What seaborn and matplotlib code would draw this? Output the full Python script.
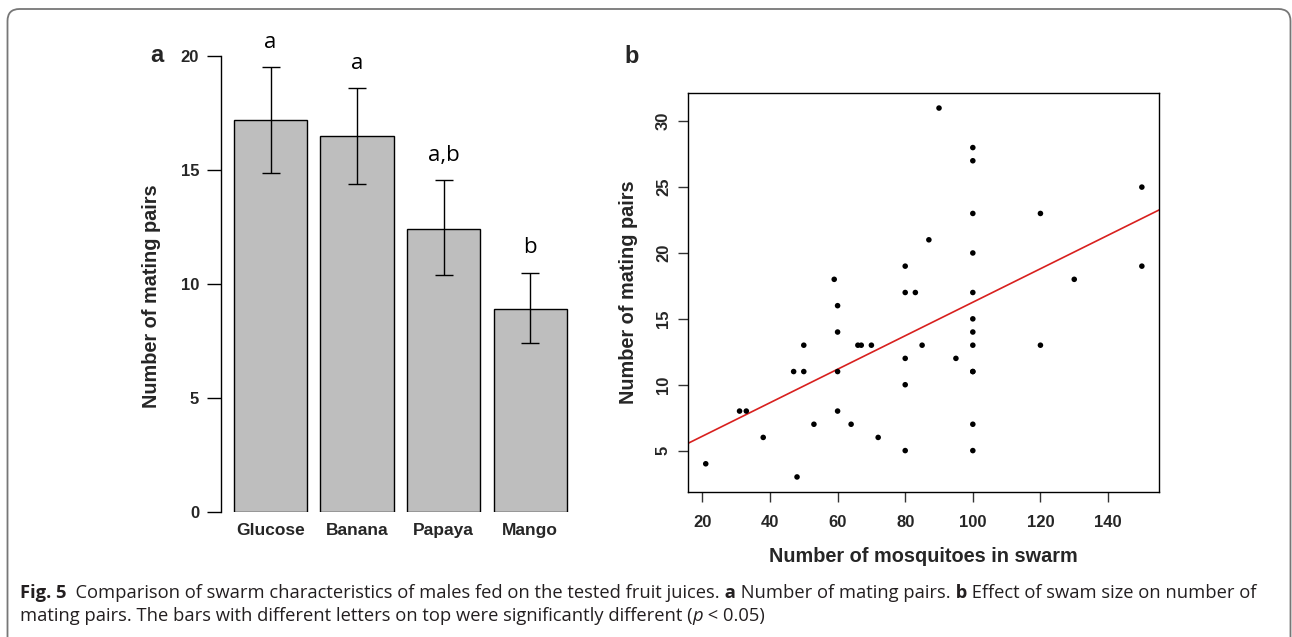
import matplotlib
matplotlib.use("Agg")
import matplotlib.pyplot as plt
import seaborn as sns
import numpy as np
import pandas as pd
from matplotlib.patches import FancyBboxPatch
from matplotlib.transforms import IdentityTransform

# ---------------- data ----------------
juices = ["Glucose", "Banana", "Papaya", "Mango"]
mean_pairs = [17.2, 16.5, 12.4, 8.9]
err_low = [14.85, 14.4, 10.4, 7.4]
err_high = [19.5, 18.6, 14.55, 10.5]
sig_letters = ["a", "a", "a,b", "b"]

swarm_size = [21, 48, 38, 31, 33, 47, 50, 50, 53, 60, 60, 60, 60, 64, 66, 67,
              70, 72, 80, 80, 80, 80, 83, 80, 85, 59, 90, 100, 100, 100, 120,
              150, 87, 100, 100, 130, 150, 100, 100, 100, 120, 95, 100, 100,
              100, 100]
mating_pairs = [4, 3, 6, 8, 8, 11, 11, 13, 7, 16, 14, 11, 8, 7, 13, 13,
                13, 6, 12, 10, 5, 17, 17, 19, 13, 18, 31, 28, 27, 23, 23,
                25, 21, 20, 17, 18, 19, 15, 14, 13, 13, 12, 11, 11,
                7, 5]

bar_yticks = [0, 5, 10, 15, 20]
sc_xticks = [20, 40, 60, 80, 100, 120, 140]
sc_yticks = [5, 10, 15, 20, 25, 30]

# ---------------- style ----------------
sns.set_style("white")
plt.rcParams["font.family"] = ["Liberation Sans", "DejaVu Sans"]
plt.rcParams["axes.linewidth"] = 1.0

W, H = 1292, 637
fig = plt.figure(figsize=(W / 100, H / 100), dpi=100)
fig.patch.set_facecolor("white")


def px_axes(left, top, right, bottom):
    return fig.add_axes([left / W, 1 - bottom / H, (right - left) / W, (bottom - top) / H])


# ---------------- panel a ----------------
axA = px_axes(220.7, 56.0, 579.9, 512.3)
dfa = pd.DataFrame({"juice": juices, "pairs": mean_pairs})
sns.barplot(data=dfa, x="juice", y="pairs", color="#bebebe", saturation=1,
            edgecolor="black", linewidth=1.0, width=0.845, errorbar=None, ax=axA)
m = np.array(mean_pairs)
axA.errorbar(np.arange(len(juices)), m,
             yerr=[m - np.array(err_low), np.array(err_high) - m],
             fmt="none", ecolor="black", elinewidth=1.0, capsize=6.3, capthick=1.0,
             clip_on=False)
for i, (hi, lab) in enumerate(zip(err_high, sig_letters)):
    axA.text(i, hi + 0.85, lab, ha="center", va="baseline", fontsize=16,
             family=["Open Sans", "DejaVu Sans"], color="black", clip_on=False)

axA.set_xlim(-0.576, 3.576)
axA.set_ylim(0, 20)
axA.set_yticks(bar_yticks)
axA.set_yticklabels([str(v) for v in bar_yticks], fontweight="bold", fontsize=12)
for lbl in axA.get_xticklabels():
    lbl.set_fontweight("bold")
    lbl.set_fontsize(12.5)
axA.tick_params(axis="y", direction="out", length=10, width=1.0, pad=5.5, left=True,
                color="black")
axA.tick_params(axis="x", length=0, pad=8)
for s in ["top", "right", "bottom"]:
    axA.spines[s].set_visible(False)
axA.spines["left"].set_bounds(0, 20)
axA.spines["left"].set_color("black")
axA.set_xlabel("")
axA.set_ylabel("Number of mating pairs", fontsize=14.3, fontweight="bold")
axA.yaxis.set_label_coords((151.7 - 220.7) / 359.2, (512.3 - 296) / 456.3)
axA.yaxis.label.set_va("center")
axA.patch.set_alpha(0)

# ---------------- panel b ----------------
axB = px_axes(688.3, 93.3, 1159.3, 491.7)
sns.scatterplot(x=swarm_size, y=mating_pairs, color="black", s=16,
                edgecolor="none", linewidth=0, ax=axB, zorder=3)
axB.set_xlim(15.84, 155.16)
axB.set_ylim(1.88, 32.12)
sns.regplot(x=swarm_size, y=mating_pairs, scatter=False, ci=None, truncate=False,
            color="#d8201e", line_kws={"linewidth": 1.2}, ax=axB)
axB.set_xlim(15.84, 155.16)
axB.set_ylim(1.88, 32.12)
axB.set_xticks(sc_xticks)
axB.set_xticklabels([str(v) for v in sc_xticks], fontweight="bold", fontsize=12)
axB.set_yticks(sc_yticks)
axB.set_yticklabels([str(v) for v in sc_yticks], fontweight="bold", fontsize=12,
                    rotation=90, va="center")
axB.tick_params(axis="both", direction="out", length=7.5, width=1.0, color="#333333",
                bottom=True, left=True)
axB.tick_params(axis="x", pad=9)
axB.tick_params(axis="y", pad=5)
for s in axB.spines.values():
    s.set_visible(True)
    s.set_color("black")
    s.set_linewidth(1.0)
axB.set_xlabel("Number of mosquitoes in swarm", fontsize=14.3, fontweight="bold")
axB.set_ylabel("Number of mating pairs", fontsize=14.3, fontweight="bold")
axB.xaxis.set_label_coords(0.5, (491.7 - 556.7) / 398.4)
axB.xaxis.label.set_va("center")
axB.yaxis.set_label_coords((628 - 688.3) / 471.0, 0.5)
axB.yaxis.label.set_va("center")

# panel letters
fig.text(156.7 / W, 1 - 62 / H, "a", ha="center", va="baseline", fontsize=17,
         fontweight="bold")
fig.text(631.5 / W, 1 - 63 / H, "b", ha="center", va="baseline", fontsize=17,
         fontweight="bold")

# ---------------- caption ----------------
cap_font = ["Open Sans", "DejaVu Sans"]
cap_size = 13.2
cap_color = "#231f20"
renderer = fig.canvas.get_renderer()


def rich_line(x_px, y_px, segments):
    x = x_px
    for txt, kw in segments:
        t = fig.text(x / W, 1 - y_px / H, txt, ha="left", va="baseline",
                     fontsize=cap_size, family=cap_font, color=cap_color, **kw)
        bb = t.get_window_extent(renderer)
        x += bb.width


rich_line(20, 598, [
    ("Fig. 5", {"fontweight": "bold"}),
    ("  Comparison of swarm characteristics of males fed on the tested fruit juices.", {}),
    (" a", {"fontweight": "bold"}),
    (" Number of mating pairs.", {}),
    (" b", {"fontweight": "bold"}),
    (" Effect of swam size on number of", {}),
])
rich_line(20, 621, [
    ("mating pairs. The bars with different letters on top were significantly different (", {}),
    ("p", {"style": "italic"}),
    (" < 0.05)", {}),
])

# border
border = FancyBboxPatch((7.5, -20), 1283, H - 9 + 20,
                        boxstyle="round,pad=0,rounding_size=12",
                        transform=IdentityTransform(), fill=False,
                        edgecolor="#777777", linewidth=1.3)
fig.add_artist(border)

fig.savefig("out.png", dpi=100, facecolor="white")
